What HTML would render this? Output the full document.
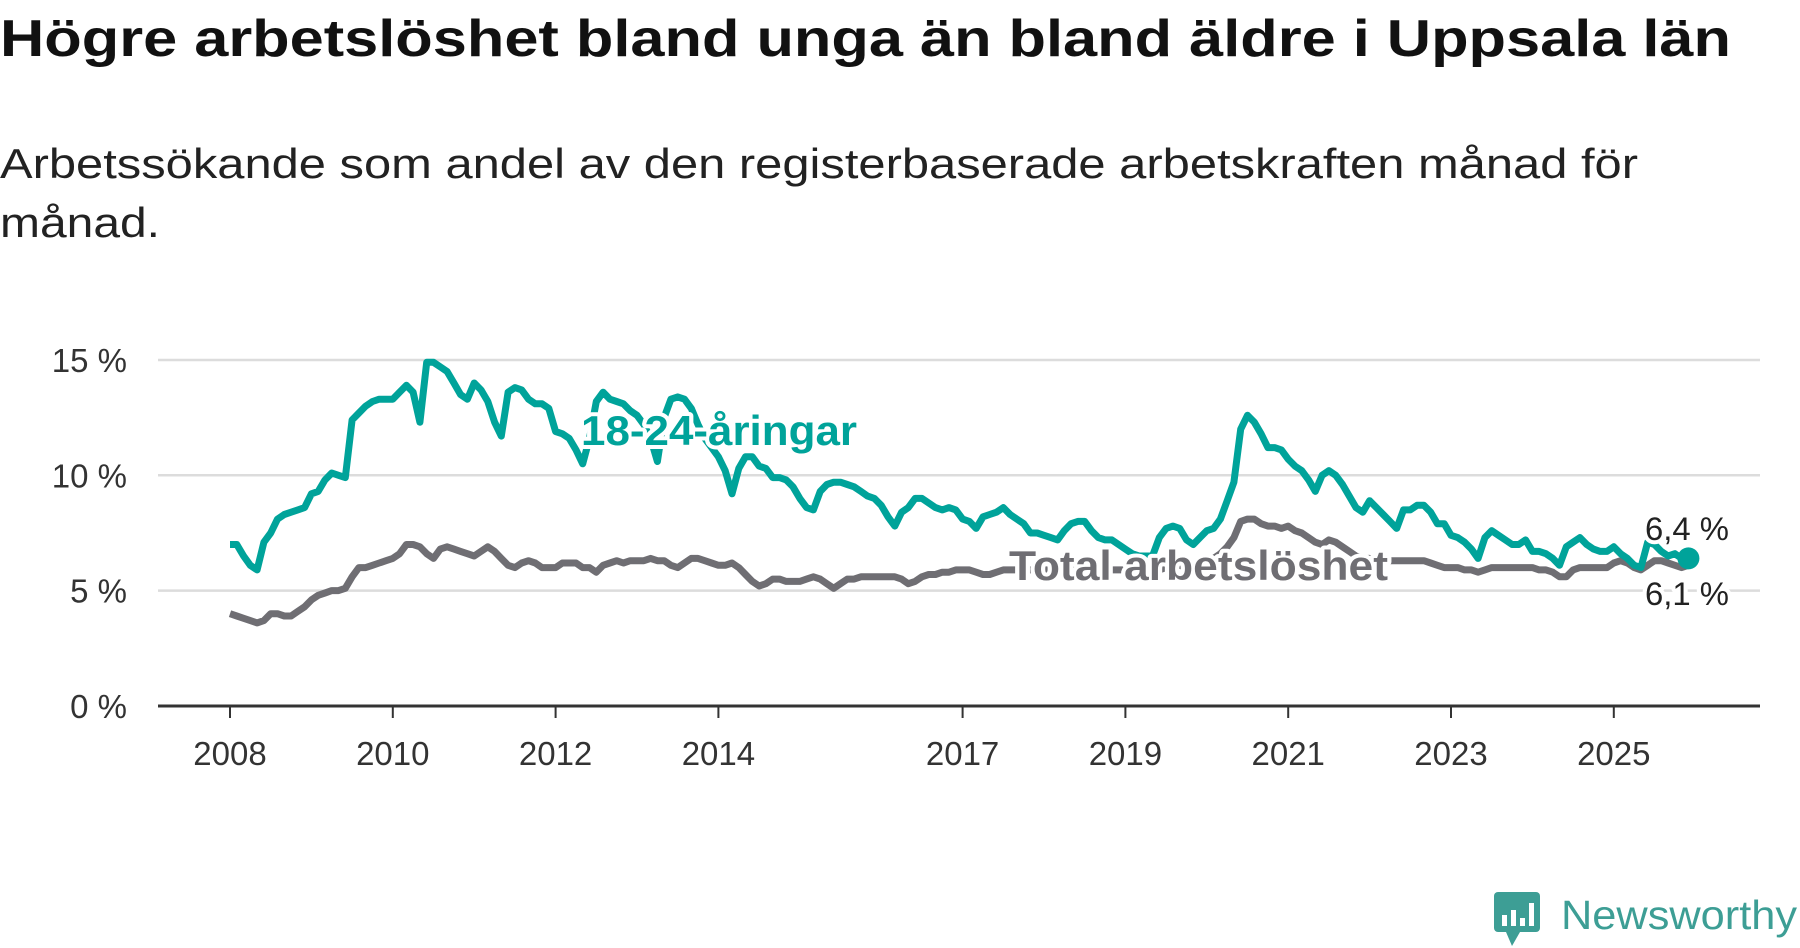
<!DOCTYPE html>
<html><head><meta charset="utf-8">
<style>
body{margin:0;background:#fff;}
svg{display:block;font-family:"Liberation Sans",sans-serif;}
</style></head>
<body>
<svg id="chart" width="1800" height="948" viewBox="0 0 1800 948">
<text x="0" y="56" font-size="52" font-weight="bold" fill="#111" textLength="1731" lengthAdjust="spacingAndGlyphs">Högre arbetslöshet bland unga än bland äldre i Uppsala län</text>
<text x="0" y="178" font-size="42" fill="#222" textLength="1638" lengthAdjust="spacingAndGlyphs">Arbetssökande som andel av den registerbaserade arbetskraften månad för</text>
<text x="0" y="237" font-size="42" fill="#222" textLength="160" lengthAdjust="spacingAndGlyphs">månad.</text>
<g id="grid"></g>
<g id="xaxis"></g>
<g id="lines"></g>
<g id="labels"></g>
<g>
<rect x="1494" y="892" width="46" height="40" rx="4" fill="#3d9e95"/>
<polygon points="1506,932 1520,932 1512,946" fill="#3d9e95"/>
<rect x="1502" y="915" width="5" height="11" fill="#fff"/><rect x="1511" y="910" width="5" height="16" fill="#fff"/><rect x="1520" y="918" width="5" height="8" fill="#fff"/><rect x="1529" y="903" width="5" height="23" fill="#fff"/>
<text x="1561" y="929" font-size="41" fill="#3d9e95" textLength="236" lengthAdjust="spacingAndGlyphs">Newsworthy</text>
</g>
</svg>
<script>
const yTicks=[0,5,10,15];
const yTickLabels=["0 %","5 %","10 %","15 %"];
const xTicks=[2008,2010,2012,2014,2017,2019,2021,2023,2025];
const youth=[
7.0,7.0,6.5,6.1,5.9,7.1,7.5,8.1,8.3,8.4,8.5,8.6,
9.2,9.3,9.8,10.1,10.0,9.9,12.4,12.7,13.0,13.2,13.3,13.3,
13.3,13.6,13.9,13.6,12.3,14.9,14.9,14.7,14.5,14.0,13.5,13.3,
14.0,13.7,13.2,12.3,11.7,13.6,13.8,13.7,13.3,13.1,13.1,12.9,
11.9,11.8,11.6,11.1,10.5,11.6,13.2,13.6,13.3,13.2,13.1,12.8,
12.6,12.2,11.6,10.6,12.5,13.3,13.4,13.3,12.9,12.2,11.6,11.2,
10.8,10.2,9.2,10.3,10.8,10.8,10.4,10.3,9.9,9.9,9.8,9.5,
9.0,8.6,8.5,9.3,9.6,9.7,9.7,9.6,9.5,9.3,9.1,9.0,
8.7,8.2,7.8,8.4,8.6,9.0,9.0,8.8,8.6,8.5,8.6,8.5,
8.1,8.0,7.7,8.2,8.3,8.4,8.6,8.3,8.1,7.9,7.5,7.5,
7.4,7.3,7.2,7.6,7.9,8.0,8.0,7.6,7.3,7.2,7.2,7.0,
6.8,6.6,6.5,6.5,6.5,7.3,7.7,7.8,7.7,7.2,7.0,7.3,
7.6,7.7,8.1,8.9,9.7,12.0,12.6,12.3,11.8,11.2,11.2,11.1,
10.7,10.4,10.2,9.8,9.3,10.0,10.2,10.0,9.6,9.1,8.6,8.4,
8.9,8.6,8.3,8.0,7.7,8.5,8.5,8.7,8.7,8.4,7.9,7.9,
7.4,7.3,7.1,6.8,6.4,7.3,7.6,7.4,7.2,7.0,7.0,7.2,
6.7,6.7,6.6,6.4,6.1,6.9,7.1,7.3,7.0,6.8,6.7,6.7,
6.9,6.6,6.4,6.1,6.0,7.1,7.0,6.7,6.5,6.6,6.4,6.4];
const total=[
4.0,3.9,3.8,3.7,3.6,3.7,4.0,4.0,3.9,3.9,4.1,4.3,
4.6,4.8,4.9,5.0,5.0,5.1,5.6,6.0,6.0,6.1,6.2,6.3,
6.4,6.6,7.0,7.0,6.9,6.6,6.4,6.8,6.9,6.8,6.7,6.6,
6.5,6.7,6.9,6.7,6.4,6.1,6.0,6.2,6.3,6.2,6.0,6.0,
6.0,6.2,6.2,6.2,6.0,6.0,5.8,6.1,6.2,6.3,6.2,6.3,
6.3,6.3,6.4,6.3,6.3,6.1,6.0,6.2,6.4,6.4,6.3,6.2,
6.1,6.1,6.2,6.0,5.7,5.4,5.2,5.3,5.5,5.5,5.4,5.4,
5.4,5.5,5.6,5.5,5.3,5.1,5.3,5.5,5.5,5.6,5.6,5.6,
5.6,5.6,5.6,5.5,5.3,5.4,5.6,5.7,5.7,5.8,5.8,5.9,
5.9,5.9,5.8,5.7,5.7,5.8,5.9,5.9,5.9,5.9,5.9,5.9,
5.9,5.9,5.9,5.9,5.9,5.9,5.9,5.9,5.9,5.9,5.9,5.9,
5.9,5.9,5.8,5.8,5.8,5.9,6.0,6.1,6.1,6.0,6.1,6.2,
6.3,6.4,6.6,6.9,7.3,8.0,8.1,8.1,7.9,7.8,7.8,7.7,
7.8,7.6,7.5,7.3,7.1,7.0,7.2,7.1,6.9,6.7,6.5,6.4,
6.4,6.3,6.3,6.3,6.3,6.3,6.3,6.3,6.3,6.2,6.1,6.0,
6.0,6.0,5.9,5.9,5.8,5.9,6.0,6.0,6.0,6.0,6.0,6.0,
6.0,5.9,5.9,5.8,5.6,5.6,5.9,6.0,6.0,6.0,6.0,6.0,
6.2,6.3,6.2,6.0,5.9,6.1,6.3,6.3,6.2,6.1,6.0,6.1];
const startYear=2008;
const NS="http://www.w3.org/2000/svg";
function X(yr){return 230+(yr-2008)*81.4;}
function Y(v){return 706-v*23.07;}
function mk(tag,attrs,parent){const e=document.createElementNS(NS,tag);for(const k in attrs)e.setAttribute(k,attrs[k]);parent.appendChild(e);return e;}
const grid=document.getElementById('grid');
yTicks.forEach((t,i)=>{
  if(t>0){const l=mk('line',{x1:158,x2:1760,y1:Y(t),y2:Y(t),stroke:'#dcdcdc','stroke-width':2.5},grid);
  
  }
  const tx=mk('text',{x:127,y:Y(t)+12,'font-size':33,fill:'#333','text-anchor':'end'},grid);
  tx.textContent=yTickLabels[i];
  
  
});
const xa=document.getElementById('xaxis');
const ax=mk('line',{x1:158,x2:1760,y1:Y(0),y2:Y(0),stroke:'#333','stroke-width':3},xa);


xTicks.forEach(t=>{
  const tk=mk('line',{x1:X(t),x2:X(t),y1:Y(0),y2:Y(0)+12,stroke:'#333','stroke-width':2},xa);
  
  
  const tx=mk('text',{x:X(t),y:765,'font-size':33,fill:'#333','text-anchor':'middle'},xa);
  tx.textContent=t;
  
  
});
const lines=document.getElementById('lines');
function path(arr){return arr.map((v,i)=>(i?'L':'M')+X(startYear+i/12).toFixed(1)+','+Y(v).toFixed(1)).join(' ');}
const pt=mk('path',{d:path(total),fill:'none',stroke:'#6f6e73','stroke-width':7,'stroke-linejoin':'round'},lines);


const py=mk('path',{d:path(youth),fill:'none',stroke:'#00a39a','stroke-width':7,'stroke-linejoin':'round'},lines);


const li=youth.length-1;
const dot=mk('circle',{cx:X(startYear+li/12),cy:Y(youth[li]),r:11,fill:'#00a39a'},lines);


const lb=document.getElementById('labels');
function lab(txt,x,y,fill,name,size,weight,len){
  const t=mk('text',{x:x,y:y,'font-size':size,'font-weight':weight,fill:fill,stroke:'#fff','stroke-width':8,'paint-order':'stroke','stroke-linejoin':'round'},lb);
  if(len){t.setAttribute('textLength',len);t.setAttribute('lengthAdjust','spacingAndGlyphs');}
  t.textContent=txt;
  
  
}
lab('18-24-åringar',581,445,'#00a39a','youth-series-label',42,'bold',276);
lab('Total arbetslöshet',1009,580,'#6f6e73','total-series-label',42,'bold',379);
lab('6,4 %',1645,540,'#222','youth-end-value',32,'normal',84);
lab('6,1 %',1645,605,'#222','total-end-value',32,'normal',84);
</script>
</body></html>
